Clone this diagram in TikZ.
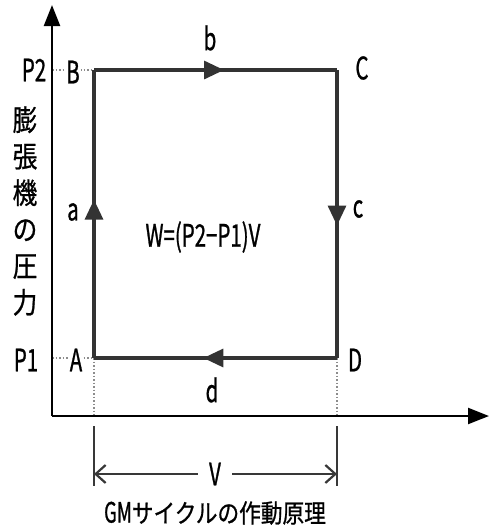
\documentclass[tikz,border=0pt]{standalone}
\usepackage{fontspec}
\newfontfamily\jp[FakeStretch=0.85,FakeBold=0.8]{Noto Sans CJK JP}
\newfontfamily\lat[FakeStretch=0.66,FakeBold=0.8]{Noto Sans CJK JP}
\usetikzlibrary{arrows.meta,decorations.markings}
\begin{document}
\begin{tikzpicture}[x=1pt,y=-1pt,
  lbl/.style={font=\lat\fontsize{31}{31}\selectfont, inner sep=1pt},
  cyc/.style={line width=3.2pt, draw=black!80},
  axisline/.style={line width=2.4pt, draw=black, -{Triangle[length=21pt,width=16pt]}},
  midarrow/.style={postaction={decorate}, decoration={markings, mark=at position #1 with {\arrow{Triangle[length=20pt,width=18pt]}}}},
  dotline/.style={dotted, line width=1.5pt, draw=black!45},
  dimline/.style={line width=2.2pt, draw=black!78},
  dimarrow/.style={line width=2.2pt, draw=black!78, -{Straight Barb[length=10pt,width=18pt,line width=2.2pt]}}]
\useasboundingbox (0,0) rectangle (489,531);
% coordinates
\coordinate (O) at (52,416);
\coordinate (Ytop) at (52,5);
\coordinate (Xend) at (489,416);
\coordinate (A) at (94,358);
\coordinate (B) at (94,70);
\coordinate (C) at (337,70);
\coordinate (D) at (337,358);
\coordinate (Ax) at (94,416);
\coordinate (Dx) at (337,416);
\coordinate (Yb) at (52,70);
\coordinate (Ya) at (52,358);
\coordinate (L1) at (94,426);
\coordinate (L2) at (94,486);
\coordinate (R1) at (337,426);
\coordinate (R2) at (337,486);
\coordinate (VL) at (94,474);
\coordinate (VR) at (337,474);
% dotted guides
\draw[dotline] (Yb) -- (B);
\draw[dotline] (Ya) -- (A);
\draw[dotline] (A) -- (Ax);
\draw[dotline] (D) -- (Dx);
% axes
\draw[axisline] (O) -- (Ytop);
\draw[axisline] (O) -- (Xend);
% corner labels (white background covers guides)
\node[lbl, fill=white] (Blbl) at (73,72) {B};
\node[lbl, fill=white] (Albl) at (76,360) {A};
\node[lbl] (Clbl) at (362,68) {C};
\node[lbl] (Dlbl) at (355,360) {D};
\node[lbl] (P2) at (34,70) {P2};
\node[lbl] (P1) at (26,360) {P1};
% cycle
\draw[cyc, midarrow=0.55] (A) -- (B);
\draw[cyc, midarrow=0.535] (B) -- (C);
\draw[cyc, midarrow=0.54] (C) -- (D);
\draw[cyc, midarrow=0.55] (D) -- (A);
% process labels
\node[lbl] (alb) at (73,212) {a};
\node[lbl] (blb) at (210,38) {b};
\node[lbl] (clb) at (358,209) {c};
\node[lbl] (dlb) at (212,390) {d};
\node[lbl] (W) at (203,237) {W=(P2−P1)V};
% y-axis label
\node[font=\jp\fontsize{29}{36.5}\selectfont, align=center, inner sep=0pt] (ylab) at (25,211) {膨\\張\\機\\の\\圧\\力};
% dimension V
\draw[dimline] (L1) -- (L2);
\draw[dimline] (R1) -- (R2);
\node[lbl] (V) at (215,474) {V};
\draw[dimarrow] (V.west) ++(-10,0) coordinate (Vw) -- (VL);
\draw[dimarrow] (V.east) ++(10,0) coordinate (Ve) -- (VR);
% caption
\node[font=\jp\fontsize{25.5}{25.5}\selectfont, inner sep=0pt] (cap) at (215,513) {{\lat\fontsize{28}{28}\selectfont GM}サイクルの作動原理};
\end{tikzpicture}
\end{document}
